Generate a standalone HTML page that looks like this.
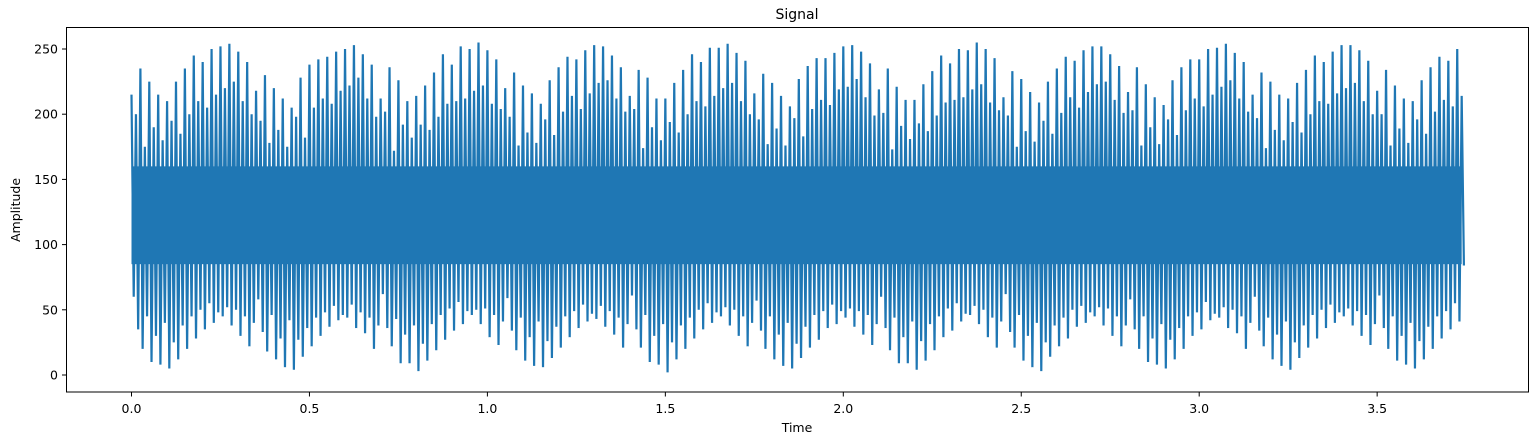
<!DOCTYPE html>
<html><head><meta charset="utf-8"><style>
html,body{margin:0;padding:0;background:#fff;}
svg{display:block;font-family:"DejaVu Sans","Liberation Sans",sans-serif;}
</style></head><body>
<svg id="chart" width="1538" height="439" viewBox="0 0 1538 439">
<text x="797" y="19" font-size="14" text-anchor="middle">Signal</text>
<text x="797" y="432" font-size="12.5" text-anchor="middle">Time</text>
<text x="20" y="210" font-size="12.5" text-anchor="middle" transform="rotate(-90 20 210)">Amplitude</text>
<g id="series"></g>
<rect x="66.5" y="27.5" width="1462" height="364.5" fill="none" stroke="#000" stroke-width="1"/>
<g id="xticks"></g>
<g id="yticks"></g>
</svg>
<script>
const xTicks = [0.0, 0.5, 1.0, 1.5, 2.0, 2.5, 3.0, 3.5];
const xTickLabels = ["0.0","0.5","1.0","1.5","2.0","2.5","3.0","3.5"];
const yTicks = [0, 50, 100, 150, 200, 250];
const yTickLabels = ["0","50","100","150","200","250"];
const tStep = 0.0125;
const highs = [
215,200,235,175,225,190,215,180,210,195,225,185,235,200,245,210,240,205,250,215,252,220,254,225,248,210,240,200,
218,195,230,178,220,188,212,175,205,198,228,182,238,205,242,212,244,208,248,218,250,222,253,228,246,212,238,198,
212,202,236,172,226,192,210,182,214,192,222,188,232,198,246,208,238,210,252,212,250,218,255,222,249,208,242,204,
220,198,232,176,222,186,216,178,208,196,226,184,236,202,244,214,242,204,249,216,253,224,252,226,245,212,236,202,
214,204,234,174,228,190,212,180,212,194,224,186,234,200,246,210,240,206,251,214,251,220,254,224,247,210,241,200,
216,196,231,177,224,189,214,176,206,197,227,183,237,204,243,211,243,207,247,219,252,221,253,227,248,213,239,199,
219,201,235,173,221,191,211,181,211,193,223,187,233,199,245,209,239,211,250,213,249,219,255,223,250,209,243,203,
213,199,233,175,227,187,217,179,209,195,225,185,235,201,244,213,241,205,249,217,252,223,252,225,246,211,237,201,
217,203,236,176,223,190,213,177,207,196,226,184,236,203,242,212,242,206,250,215,251,221,254,226,247,212,240,202,
215,197,232,174,225,188,215,180,212,194,224,186,234,200,245,210,240,208,248,216,253,220,253,224,249,210,241,200,
218,200,234,176,222,189,212,178,210,196,226,185,236,202,244,211,241,206,250,214,254
];
const lows = [
60,35,20,45,10,30,8,40,5,25,12,38,20,45,28,50,35,55,40,48,45,52,38,50,30,45,22,40,
58,33,18,46,12,28,6,42,4,27,14,36,22,44,30,48,37,53,42,46,44,54,36,48,32,44,20,38,
62,36,22,43,9,31,9,38,3,24,11,39,19,46,27,51,34,56,39,49,46,50,39,51,29,46,23,41,
59,34,19,44,11,29,7,41,6,26,13,37,21,45,29,49,36,54,41,47,43,53,37,49,31,44,21,39,
61,35,21,46,10,30,8,39,2,25,12,38,20,44,28,50,35,55,40,48,45,52,38,50,30,45,22,40,
57,34,20,45,12,31,7,40,5,24,13,37,21,46,27,49,36,54,39,49,44,51,37,49,31,46,23,39,
60,36,19,44,9,29,9,41,4,26,11,39,19,45,29,51,34,55,41,47,46,53,39,50,29,44,21,41,
62,33,21,46,11,30,6,40,3,25,14,38,22,44,28,50,37,53,40,48,45,52,38,51,30,45,22,38,
58,35,20,45,10,28,8,39,5,27,12,36,20,45,30,48,35,56,42,47,44,52,36,50,32,45,20,40,
60,34,22,44,12,31,7,41,4,25,13,38,21,46,28,50,36,54,40,48,45,51,38,49,30,46,23,39,
61,36,20,45,11,30,8,40,5,26,12,37,20,45,28,49,35,55,41,84
];
const NS = "http://www.w3.org/2000/svg";
const xScale = t => 131.5 + t * 355.9;
const yScale = v => 375 - v * 1.304;
const series = document.getElementById('series');
let pts = [];
const n = Math.min(highs.length, lows.length);
for (let i = 0; i < n; i++) {
  const t = i * tStep;
  pts.push(xScale(t).toFixed(2) + "," + yScale(highs[i]).toFixed(2));
  pts.push(xScale(t + tStep / 2).toFixed(2) + "," + yScale(lows[i]).toFixed(2));
}
const line = document.createElementNS(NS, 'polyline');


line.setAttribute('points', pts.join(' '));
line.setAttribute('fill', 'none');
line.setAttribute('stroke', '#1f77b4');
line.setAttribute('stroke-width', '2.2');
series.appendChild(line);
const core = document.createElementNS(NS, 'rect');


core.setAttribute('x', xScale(0));
core.setAttribute('width', xScale((n - 1) * tStep) - xScale(0));
core.setAttribute('y', yScale(160));
core.setAttribute('height', yScale(85) - yScale(160));
core.setAttribute('fill', '#1f77b4');
series.appendChild(core);
const xg = document.getElementById('xticks');
xTicks.forEach((v, i) => {
  const x = xScale(v);
  const tk = document.createElementNS(NS, 'line');
  
  
  tk.setAttribute('x1', x); tk.setAttribute('x2', x);
  tk.setAttribute('y1', 392); tk.setAttribute('y2', 396.5);
  tk.setAttribute('stroke', '#000');
  xg.appendChild(tk);
  const tx = document.createElementNS(NS, 'text');
  
  
  tx.setAttribute('x', x); tx.setAttribute('y', 413);
  tx.setAttribute('font-size', '12.5'); tx.setAttribute('text-anchor', 'middle');
  tx.textContent = xTickLabels[i];
  xg.appendChild(tx);
});
const yg = document.getElementById('yticks');
yTicks.forEach((v, i) => {
  const y = yScale(v);
  const tk = document.createElementNS(NS, 'line');
  
  
  tk.setAttribute('x1', 62); tk.setAttribute('x2', 66.5);
  tk.setAttribute('y1', y); tk.setAttribute('y2', y);
  tk.setAttribute('stroke', '#000');
  yg.appendChild(tk);
  const tx = document.createElementNS(NS, 'text');
  
  
  tx.setAttribute('x', 58); tx.setAttribute('y', y + 4.5);
  tx.setAttribute('font-size', '12.5'); tx.setAttribute('text-anchor', 'end');
  tx.textContent = yTickLabels[i];
  yg.appendChild(tx);
});
</script>
</body></html>
